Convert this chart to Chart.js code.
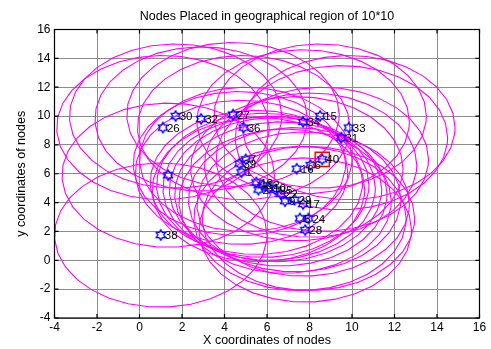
<!DOCTYPE html>
<html>
<head>
<meta charset="utf-8">
<title>Nodes Placed in geographical region of 10*10</title>
<script src="https://cdn.jsdelivr.net/npm/chart.js@4.4.1/dist/chart.umd.min.js"></script>
<style>
  html, body { margin: 0; padding: 0; background: #fff; }
  #wrap { width: 491px; height: 349px; }
</style>
</head>
<body>
<div id="wrap"><canvas id="nodesChart" width="491" height="349"></canvas></div>
<script>
// node positions
const nodeLabels = ['1', '2', '5', '6', '7', '9', '10', '', '12', '15', '16', '17', '19', '22', '24',
                    '25', '26', '27', '28', '29', '30', '31', '32', '33', '34', '36', '38', '39', '40'];
const nodeX = [4.8, 5.6, 7.55, 8.05, 5.0, 6.85, 6.1, 1.35, 5.8, 8.5, 7.4, 7.7, 5.5, 6.65, 7.95,
               6.4, 1.1, 4.4, 7.8, 7.3, 1.7, 9.5, 2.9, 9.85, 7.7, 4.9, 1.0, 4.7, 8.6];
const nodeY = [6.1, 4.9, 2.9, 6.6, 7.0, 4.1, 5.0, 5.9, 5.2, 10.0, 6.35, 3.9, 5.4, 4.6, 2.9,
               4.9, 9.2, 10.1, 2.1, 4.2, 10.0, 8.5, 9.8, 9.2, 9.6, 9.2, 1.75, 6.7, 7.0];
const headNode = '40';          // node marked with the red square
const commRange = 5;            // radius of the magenta range circles
const axisTicks = [-4, -2, 0, 2, 4, 6, 8, 10, 12, 14, 16];

const FONT = 'Arial, "Liberation Sans", Helvetica, sans-serif';

// hexagram marker like matlab 'h'
function makeHexagram(r, color) {
  const c = document.createElement('canvas');
  const s = Math.ceil(r * 2 + 3);
  c.width = s;
  c.height = s;
  const g = c.getContext('2d');
  const ri = r / Math.sqrt(3);
  g.beginPath();
  for (let i = 0; i < 12; i++) {
    const a = -Math.PI / 2 + i * Math.PI / 6;
    const rr = i % 2 === 0 ? r : ri;
    g.lineTo(s / 2 + rr * Math.cos(a), s / 2 + rr * Math.sin(a));
  }
  g.closePath();
  g.strokeStyle = color;
  g.lineWidth = 1.4;
  g.stroke();
  return c;
}

const rangeCircles = {
  id: 'rangeCircles',
  beforeDatasetsDraw(chart) {
    const { ctx, chartArea, scales: { x, y } } = chart;
    ctx.save();
    ctx.beginPath();
    ctx.rect(chartArea.left, chartArea.top, chartArea.width, chartArea.height);
    ctx.clip();
    ctx.strokeStyle = '#ff00ff';
    ctx.lineWidth = 1.1;
    nodeX.forEach((cx, i) => {
      const cy = nodeY[i];
      ctx.beginPath();
      for (let t = 0; t < 2 * Math.PI; t += 0.2) {
        ctx.lineTo(x.getPixelForValue(cx + commRange * Math.cos(t)),
                   y.getPixelForValue(cy + commRange * Math.sin(t)));
      }
      ctx.closePath();
      ctx.stroke();
    });
    ctx.restore();
  }
};

const nodeText = {
  id: 'nodeText',
  afterDatasetsDraw(chart) {
    const { ctx, scales: { x, y } } = chart;
    ctx.save();
    ctx.fillStyle = '#000';
    ctx.font = '11.5px ' + FONT;
    ctx.textAlign = 'left';
    ctx.textBaseline = 'middle';
    nodeLabels.forEach((lbl, i) => {
      if (!lbl) return;
      ctx.fillText(lbl, x.getPixelForValue(nodeX[i]) + 4, y.getPixelForValue(nodeY[i]) + 1);
    });
    ctx.restore();
  }
};

// black box and inward tick marks
const axesBox = {
  id: 'axesBox',
  afterDraw(chart) {
    const { ctx, chartArea: a, scales: { x, y } } = chart;
    ctx.save();
    ctx.strokeStyle = '#000';
    ctx.lineWidth = 1.2;
    ctx.strokeRect(a.left, a.top, a.width, a.height);
    ctx.beginPath();
    axisTicks.forEach(v => {
      const px = x.getPixelForValue(v);
      ctx.moveTo(px, a.bottom); ctx.lineTo(px, a.bottom - 4);
      ctx.moveTo(px, a.top); ctx.lineTo(px, a.top + 4);
      const py = y.getPixelForValue(v);
      ctx.moveTo(a.left, py); ctx.lineTo(a.left + 4, py);
      ctx.moveTo(a.right, py); ctx.lineTo(a.right - 4, py);
    });
    ctx.stroke();
    ctx.restore();
  }
};

const headIdx = nodeLabels.indexOf(headNode);

new Chart(document.getElementById('nodesChart'), {
  type: 'scatter',
  data: {
    datasets: [
      {
        label: 'head',
        data: [{ x: nodeX[headIdx], y: nodeY[headIdx] }],
        pointStyle: 'rect',
        radius: 10,
        borderColor: '#ff0000',
        backgroundColor: 'rgba(0,0,0,0)',
        borderWidth: 1.5,
      },
      {
        label: 'nodes',
        data: nodeX.map((v, i) => ({ x: v, y: nodeY[i] })),
        pointStyle: makeHexagram(5.2, '#0000ff'),
        radius: 5,
      },
    ],
  },
  options: {
    responsive: false,
    animation: false,
    devicePixelRatio: 1,
    layout: { padding: { left: 0, right: 7, top: 0, bottom: 0 } },
    plugins: {
      legend: { display: false },
      tooltip: { enabled: false },
      title: {
        display: true,
        fullSize: false,
        text: 'Nodes Placed in geographical region of 10*10',
        color: '#000',
        font: { family: FONT, size: 12.5, weight: 'normal', lineHeight: 1.2 },
        padding: { top: 9.5, bottom: 5 },
      },
    },
    scales: {
      x: {
        type: 'linear',
        min: -4,
        max: 16,
        afterBuildTicks: s => { s.ticks = axisTicks.map(v => ({ value: v })); },
        afterFit: s => { s.height = 31; },
        ticks: { color: '#000', font: { family: FONT, size: 12 }, padding: 2, maxRotation: 0 },
        grid: { color: '#8c8c8c', drawTicks: false },
        border: { display: false },
        title: {
          display: true,
          text: 'X coordinates of nodes',
          color: '#000',
          font: { family: FONT, size: 12.5 },
          padding: { top: 0, bottom: 1 },
        },
      },
      y: {
        type: 'linear',
        min: -4,
        max: 16,
        afterBuildTicks: s => { s.ticks = axisTicks.map(v => ({ value: v })); },
        afterFit: s => { s.width = 54.5; },
        ticks: { color: '#000', font: { family: FONT, size: 12 }, padding: 4 },
        grid: { color: '#8c8c8c', drawTicks: false },
        border: { display: false },
        title: {
          display: true,
          text: 'y coordinates of nodes',
          color: '#000',
          font: { family: FONT, size: 12.5 },
          padding: { top: 14, bottom: 0 },
        },
      },
    },
  },
  plugins: [rangeCircles, nodeText, axesBox],
});
</script>
</body>
</html>
